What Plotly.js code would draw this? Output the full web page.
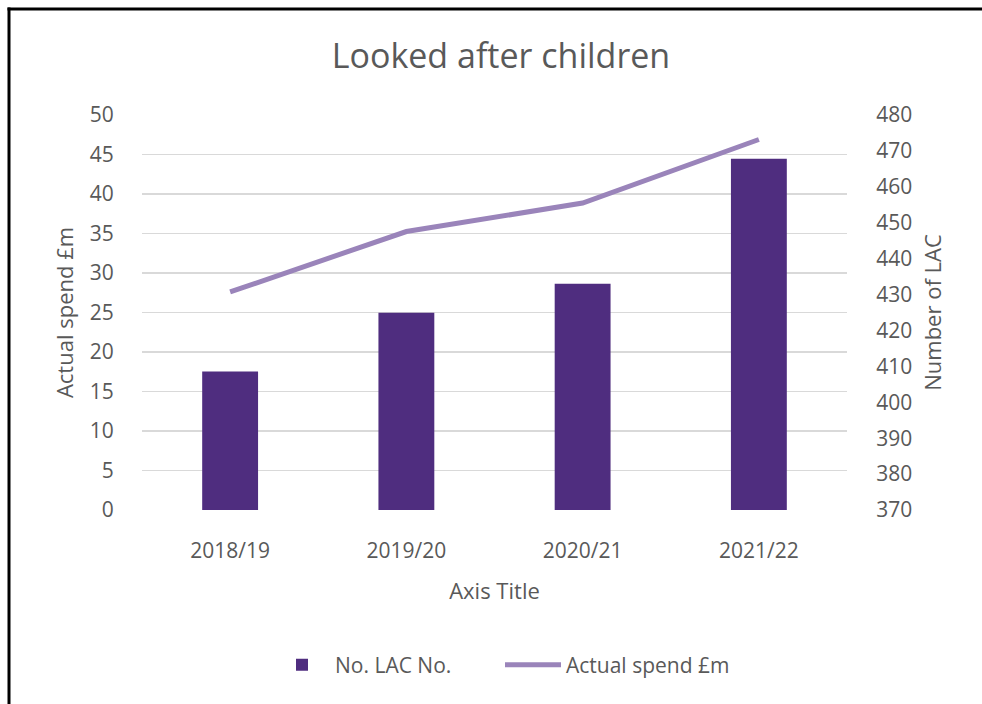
<!DOCTYPE html>
<html>
<head>
<meta charset="utf-8">
<script src="https://cdn.plot.ly/plotly-3.0.1.min.js"></script>
<style>
  html, body { margin: 0; padding: 0; background: #ffffff; }
  #chart { width: 982px; height: 704px; }
</style>
</head>
<body>
<div id="chart"></div>
<script>
const categories = ["2018/19", "2019/20", "2020/21", "2021/22"];
const lacNumbers = [408.6, 424.9, 433, 467.8];
const actualSpend = [27.6, 35.25, 38.85, 46.9];
const leftTicks = [0, 5, 10, 15, 20, 25, 30, 35, 40, 45, 50];
const rightTicks = [370, 380, 390, 400, 410, 420, 430, 440, 450, 460, 470, 480];

const fontFamily = "'Open Sans', Lato, sans-serif";
const textColor = "#595959";

const traces = [
  {
    type: "bar",
    name: "No. LAC No.",
    x: categories,
    y: lacNumbers,
    yaxis: "y2",
    marker: { color: "#4F2D7F" },
    width: 0.317
  },
  {
    type: "scatter",
    mode: "lines",
    name: "Actual spend £m",
    x: categories,
    y: actualSpend,
    yaxis: "y",
    line: { color: "#9A84BA", width: 5 }
  }
];

const L = 142, R = 847, T = 115, B = 510;
const W = R - L, H = B - T;
const px = v => (v - L) / W;
const py = v => (B - v) / H;

const layout = {
  width: 982,
  height: 704,
  paper_bgcolor: "#ffffff",
  plot_bgcolor: "#ffffff",
  margin: { l: L, r: 982 - R, t: T, b: 704 - B, pad: 0 },
  font: { family: fontFamily, color: textColor, size: 21 },
  title: {
    text: "Looked after children",
    font: { family: fontFamily, size: 34, color: textColor },
    x: px(501), xref: "paper", xanchor: "center",
    y: 1 - 56 / 704, yanchor: "middle"
  },
  bargap: 0.683,
  showlegend: true,
  legend: {
    orientation: "h",
    x: px(500), xanchor: "center",
    y: py(665), yanchor: "middle",
    font: { family: fontFamily, size: 21, color: textColor },
    itemwidth: 56,
    entrywidth: 160,
    entrywidthmode: "pixels",
    traceorder: "normal"
  },
  xaxis: {
    type: "category",
    showgrid: false,
    showline: false,
    zeroline: false,
    ticks: "outside",
    ticklen: 22,
    tickcolor: "rgba(0,0,0,0)",
    tickfont: { size: 21, color: textColor },
    title: { text: "Axis Title", font: { size: 22, color: textColor }, standoff: 20 }
  },
  yaxis: {
    range: [0, 50],
    tickvals: leftTicks,
    showgrid: true,
    gridcolor: "#D9D9D9",
    gridwidth: 1.5,
    zeroline: false,
    showline: false,
    ticks: "outside",
    ticklen: 23,
    tickcolor: "rgba(0,0,0,0)",
    tickfont: { size: 21, color: textColor },
    title: { text: "Actual spend £m", font: { size: 22, color: textColor }, standoff: 10 }
  },
  yaxis2: {
    range: [370, 480],
    tickvals: rightTicks,
    overlaying: "y",
    side: "right",
    showgrid: false,
    zeroline: false,
    showline: false,
    ticks: "outside",
    ticklen: 24,
    tickcolor: "rgba(0,0,0,0)",
    tickfont: { size: 21, color: textColor },
    title: { text: "Number of LAC", font: { size: 22, color: textColor }, standoff: 14 }
  },
  shapes: [
    { type: "line", xref: "paper", yref: "paper", x0: px(7.5), x1: px(990), y0: py(9), y1: py(9),
      line: { color: "#000000", width: 3 } },
    { type: "line", xref: "paper", yref: "paper", x0: px(9), x1: px(9), y0: py(7.5), y1: py(712),
      line: { color: "#000000", width: 3 } }
  ]
};

Plotly.newPlot("chart", traces, layout, { displayModeBar: false, staticPlot: true });
</script>
</body>
</html>
